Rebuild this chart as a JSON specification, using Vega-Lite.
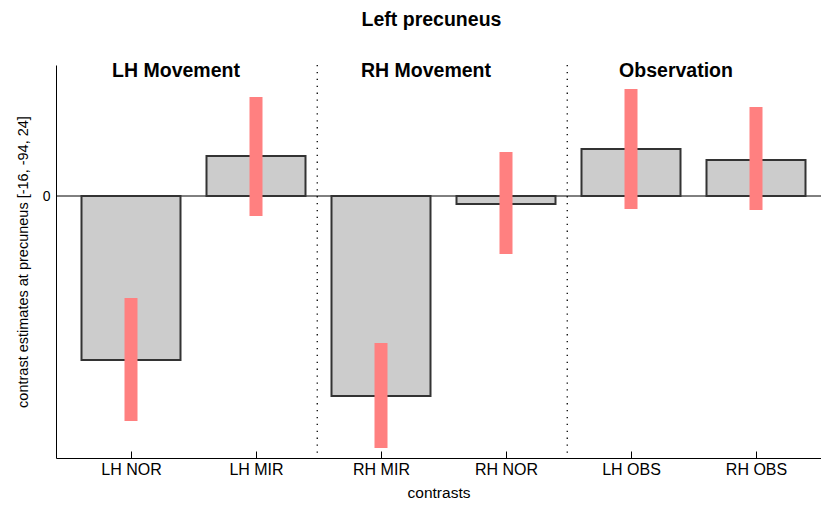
{
  "$schema": "https://vega.github.io/schema/vega-lite/v6.json",
  "autosize": "none",
  "padding": {"left": 56, "top": 65, "right": 0, "bottom": 49},
  "width": 765,
  "height": 393,
  "background": "white",
  "config": {
    "font": "Liberation Sans",
    "view": {"stroke": null}
  },
  "title": {
    "text": "Left precuneus",
    "font": "Liberation Sans",
    "fontSize": 19.5,
    "fontWeight": "bold",
    "color": "black",
    "anchor": "middle",
    "frame": "group",
    "baseline": "alphabetic",
    "offset": 16,
    "dx": -7
  },
  "datasets": {
    "bars": [
      {"contrast": "LH NOR", "pos": 1, "estimate": -3.28, "lo": -4.5, "hi": -2.04},
      {"contrast": "LH MIR", "pos": 2, "estimate": 0.8, "lo": -0.4, "hi": 1.98},
      {"contrast": "RH MIR", "pos": 3, "estimate": -4.0, "lo": -5.04, "hi": -2.94},
      {"contrast": "RH NOR", "pos": 4, "estimate": -0.16, "lo": -1.16, "hi": 0.88},
      {"contrast": "LH OBS", "pos": 5, "estimate": 0.94, "lo": -0.26, "hi": 2.14},
      {"contrast": "RH OBS", "pos": 6, "estimate": 0.72, "lo": -0.28, "hi": 1.78}
    ],
    "groups": [
      {"group": "LH Movement", "pos": 1.36, "level": 2.38},
      {"group": "RH Movement", "pos": 3.36, "level": 2.38},
      {"group": "Observation", "pos": 5.36, "level": 2.38}
    ],
    "separators": [
      {"pos": 2.49},
      {"pos": 4.49}
    ],
    "zero": [{"level": 0}]
  },
  "layer": [
    {
      "data": {"name": "zero"},
      "mark": {"type": "rule", "color": "black", "strokeWidth": 1},
      "encoding": {
        "y": {"field": "level", "type": "quantitative", "scale": {"domain": [-5.24, 2.62], "nice": false, "zero": false, "padding": 0}}
      }
    },
    {
      "data": {"name": "separators"},
      "mark": {"type": "rule", "color": "black", "strokeWidth": 1.3, "strokeDash": [1.3, 5.6]},
      "encoding": {
        "x": {"field": "pos", "type": "quantitative", "scale": {"domain": [0.4, 6.52], "nice": false, "zero": false, "padding": 0}}
      }
    },
    {
      "data": {"name": "bars"},
      "mark": {"type": "bar", "width": 99, "fill": "#CCCCCC", "stroke": "#333333", "strokeWidth": 2},
      "encoding": {
        "x": {
          "field": "pos", "type": "quantitative",
          "scale": {"domain": [0.4, 6.52], "nice": false, "zero": false, "padding": 0},
          "axis": {
            "values": [1, 2, 3, 4, 5, 6],
            "labelExpr": "['','LH NOR','LH MIR','RH MIR','RH NOR','LH OBS','RH OBS'][datum.value]",
            "title": "contrasts",
            "titleFont": "Liberation Sans",
            "titleFontSize": 15.5,
            "titleFontWeight": "normal",
            "titleColor": "black",
            "titlePadding": 8,
            "labelFont": "Liberation Sans",
            "labelFontSize": 16,
            "labelColor": "black",
            "labelPadding": 10,
            "tickSize": -7,
            "tickColor": "black",
            "domainColor": "black",
            "grid": false
          }
        },
        "y": {
          "field": "estimate", "type": "quantitative",
          "scale": {"domain": [-5.24, 2.62], "nice": false, "zero": false, "padding": 0},
          "axis": {
            "values": [0],
            "title": "contrast estimates at precuneus [-16, -94, 24]",
            "titleFont": "Liberation Sans",
            "titleFontSize": 14.5,
            "titleFontWeight": "normal",
            "titleColor": "black",
            "titlePadding": 12,
            "labelFont": "Liberation Sans",
            "labelFontSize": 14,
            "labelColor": "black",
            "labelPadding": 6,
            "ticks": false,
            "domainColor": "black",
            "grid": false
          }
        },
        "y2": {"datum": 0}
      }
    },
    {
      "data": {"name": "bars"},
      "mark": {"type": "rule", "color": "#FF8080", "strokeWidth": 13},
      "encoding": {
        "x": {"field": "pos", "type": "quantitative"},
        "y": {"field": "lo", "type": "quantitative"},
        "y2": {"field": "hi"}
      }
    },
    {
      "data": {"name": "groups"},
      "mark": {"type": "text", "font": "Liberation Sans", "fontSize": 19.5, "fontWeight": "bold", "color": "black", "align": "center", "baseline": "alphabetic"},
      "encoding": {
        "x": {"field": "pos", "type": "quantitative"},
        "y": {"field": "level", "type": "quantitative"},
        "text": {"field": "group"}
      }
    }
  ]
}
